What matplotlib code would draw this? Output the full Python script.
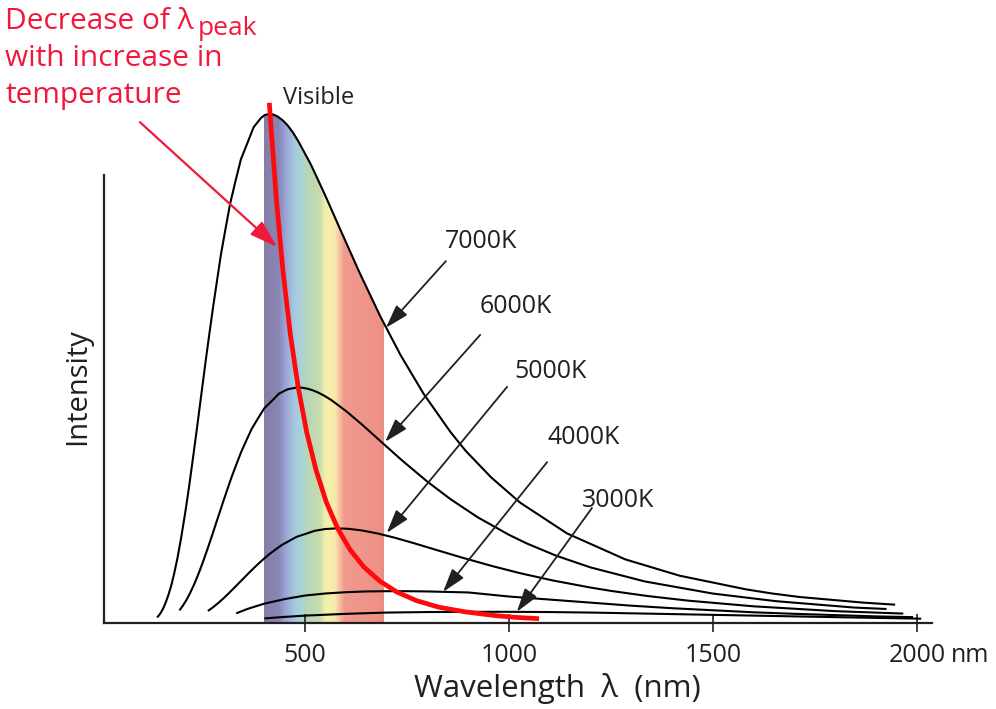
#!/usr/bin/env python3
"""Blackbody radiation curves (3000K-7000K) with the visible band and Wien peak shift."""

import numpy as np
import matplotlib
matplotlib.use("Agg")
import matplotlib.pyplot as plt
from matplotlib.colors import LinearSegmentedColormap
from matplotlib.patches import Polygon

plt.rcParams["font.family"] = ["Open Sans", "DejaVu Sans"]

# ── Data (intensity relative to the 7000K peak) ──
lam_7000 = [137.0, 141.8, 146.8, 152.3, 158.1, 164.4, 171.3, 178.7, 186.9, 195.8,
            205.5, 210.8, 216.4, 222.2, 228.4, 234.9, 241.8, 249.1, 256.9, 265.2,
            274.1, 283.5, 293.6, 304.5, 316.2, 328.9, 342.6, 357.5, 373.7, 391.5,
            401.1, 411.1, 421.6, 432.7, 444.4, 456.8, 469.8, 483.6, 513.9, 548.1,
            587.3, 632.4, 685.1, 734.1, 790.6, 856.4, 893.7, 956.0, 1027.7, 1141.9,
            1284.6, 1417.5, 1581.1, 1644.3, 1712.9, 1868.6, 1946.0]
int_7000 = [0.011, 0.015, 0.021, 0.029, 0.040, 0.054, 0.072, 0.096, 0.127, 0.166,
            0.214, 0.242, 0.273, 0.307, 0.344, 0.383, 0.426, 0.471, 0.519, 0.568,
            0.619, 0.670, 0.724, 0.773, 0.824, 0.867, 0.911, 0.941, 0.974, 0.992,
            0.998, 1.000, 0.999, 0.995, 0.988, 0.978, 0.964, 0.946, 0.901, 0.842,
            0.771, 0.690, 0.601, 0.526, 0.450, 0.375, 0.338, 0.286, 0.236, 0.176,
            0.125, 0.093, 0.066, 0.058, 0.051, 0.040, 0.036]

lam_6000 = [191.8, 199.8, 208.5, 218.0, 228.4, 239.8, 245.9, 252.4, 259.2, 266.4,
            274.1, 282.1, 290.7, 299.8, 309.4, 319.7, 330.8, 342.6, 355.3, 368.9,
            383.7, 399.7, 417.0, 436.0, 456.8, 479.6, 491.9, 504.8, 518.5, 532.9,
            548.1, 564.2, 599.5, 639.5, 685.1, 737.8, 799.3, 856.4, 922.3, 999.2,
            1042.6, 1115.3, 1199.0, 1332.2, 1498.8, 1653.8, 1844.6, 1925.0]
int_6000 = [0.0248, 0.0334, 0.0445, 0.0587, 0.0767, 0.0991, 0.1121, 0.1264, 0.1420, 0.1590,
            0.1773, 0.1971, 0.2178, 0.2400, 0.2627, 0.2866, 0.3102, 0.3348, 0.3576, 0.3813,
            0.4010, 0.4217, 0.4352, 0.4507, 0.4591, 0.4626, 0.4623, 0.4605, 0.4572, 0.4524,
            0.4459, 0.4379, 0.4169, 0.3898, 0.3569, 0.3192, 0.2779, 0.2432, 0.2080, 0.1734,
            0.1565, 0.1322, 0.1093, 0.0817, 0.0579, 0.0429, 0.0304, 0.0275]

lam_5000 = [261.6, 274.1, 287.8, 295.1, 302.9, 311.1, 319.7, 328.9, 338.5, 348.8,
            359.7, 371.3, 383.7, 396.9, 411.1, 426.3, 442.7, 460.4, 479.6, 500.5,
            523.2, 548.1, 575.5, 605.8, 639.5, 677.1, 719.4, 767.4, 822.2, 885.4,
            959.2, 1027.7, 1106.8, 1199.0, 1251.1, 1338.4, 1438.8, 1598.7, 1798.5, 1966.0]
int_5000 = [0.0236, 0.0308, 0.0398, 0.0450, 0.0508, 0.0571, 0.0639, 0.0713, 0.0792, 0.0875,
            0.0964, 0.1056, 0.1152, 0.1247, 0.1345, 0.1437, 0.1532, 0.1611, 0.1695, 0.1749,
            0.1811, 0.1845, 0.1859, 0.1851, 0.1818, 0.1760, 0.1676, 0.1566, 0.1434, 0.1283,
            0.1117, 0.0977, 0.0836, 0.0697, 0.0629, 0.0531, 0.0439, 0.0328, 0.0233, 0.0185]

lam_4000 = [331, 360, 400, 450, 500, 550, 600, 650, 700, 750, 800, 900, 1000,
            1100, 1200, 1300, 1400, 1500, 1600, 1700, 1800, 1900, 1990]
int_4000 = [0.019, 0.028, 0.038, 0.047, 0.054, 0.058, 0.0605, 0.062, 0.0625, 0.0625,
            0.062, 0.060, 0.052, 0.046, 0.040, 0.034, 0.029, 0.025, 0.021, 0.018,
            0.0155, 0.013, 0.0115]

lam_3000 = [400, 450, 500, 600, 700, 800, 900, 1000, 1100, 1200, 1300, 1400,
            1500, 1600, 1700, 1800, 1900, 2010]
int_3000 = [0.009, 0.012, 0.0145, 0.018, 0.0205, 0.0215, 0.022, 0.022, 0.0215,
            0.0205, 0.019, 0.0175, 0.016, 0.0145, 0.013, 0.0115, 0.010, 0.0085]

# Locus of the peak (Wien displacement), drawn in red
lam_peak = [412.2, 414.0, 429.3, 445.8, 463.7, 483.0, 504.0, 526.9, 552.0, 579.6,
            610.1, 644.0, 681.9, 724.5, 772.8, 828.0, 891.7, 966.0, 1016.8, 1073.3]
int_peak = [1.022, 1.000, 0.834, 0.690, 0.567, 0.463, 0.374, 0.300, 0.237, 0.186,
            0.144, 0.110, 0.083, 0.061, 0.044, 0.031, 0.022, 0.0145, 0.011, 0.0085]

curves = [("7000K", lam_7000, int_7000), ("6000K", lam_6000, int_6000),
          ("5000K", lam_5000, int_5000), ("4000K", lam_4000, int_4000),
          ("3000K", lam_3000, int_3000)]

visible_range = (400, 692)
x_ticks = [500, 1000, 1500, 2000]

# label text position and arrow (tail -> head) for each curve
curve_labels = {
    "7000K": ((843, 0.750), (845, 0.711), (698, 0.580)),
    "6000K": ((928, 0.622), (929, 0.566), (696, 0.356)),
    "5000K": ((1014, 0.495), (995, 0.464), (700, 0.177)),
    "4000K": ((1095, 0.365), (1093, 0.316), (838, 0.061)),
    "3000K": ((1178, 0.240), (1203, 0.226), (1019, 0.022)),
}

INK = "#231f20"
RED = "#ff0a0a"
TXT_RED = "#f0193c"

# ── Figure ──────────────────────────────────────────────
fig = plt.figure(figsize=(9.96, 7.09), dpi=100)
ax = fig.add_axes([104 / 996, 1 - 623 / 709, 828 / 996, 543 / 709])
ax.set_xlim(7, 2036.4)
ax.set_ylim(0, 1.0668)

# visible band, clipped to the area under the 7000K curve
spec = LinearSegmentedColormap.from_list("vis", [
    (0.00, "#847da7"), (0.12, "#8a86b4"), (0.17, "#98a2d4"), (0.25, "#a5c8e0"),
    (0.31, "#aad3d8"), (0.36, "#b6d7b6"), (0.47, "#c8dcae"), (0.51, "#f3efac"),
    (0.59, "#f7ecaa"), (0.63, "#f5c2a0"), (0.67, "#f19a8d"), (0.96, "#ef9187"),
    (1.00, "#e98c84")])
grad = np.linspace(0, 1, 300).reshape(1, -1)
im = ax.imshow(grad, cmap=spec, extent=[visible_range[0], visible_range[1], 0, 1.05],
               aspect="auto", origin="lower", zorder=1, interpolation="bilinear")
under = Polygon(np.column_stack([lam_7000 + [lam_7000[-1], lam_7000[0]],
                                 int_7000 + [0, 0]]), closed=True,
                transform=ax.transData, facecolor="none", edgecolor="none")
ax.add_patch(under)
im.set_clip_path(under)

for name, lam, inten in curves:
    ax.plot(lam, inten, color="black", lw=1.5, zorder=3, solid_capstyle="butt",
            solid_joinstyle="round")

ax.plot(lam_peak, int_peak, color=RED, lw=3.4, zorder=5, clip_on=False,
        solid_capstyle="butt", solid_joinstyle="round")

# curve labels and arrows
for name, (txt, tail, head) in curve_labels.items():
    ax.text(txt[0], txt[1], name, fontsize=18, color=INK, ha="left", va="center")
    ax.annotate("", xy=head, xytext=tail,
                arrowprops=dict(arrowstyle="-|>,head_length=0.9,head_width=0.28",
                                color=INK, lw=1.3, shrinkA=0, shrinkB=0,
                                mutation_scale=16), zorder=6)

ax.text(445, 1.031, "Visible", fontsize=17, color=INK, ha="left", va="center")

# red note + arrow
ax.annotate("", xy=(431, 0.739), xytext=(95, 0.984), annotation_clip=False,
            arrowprops=dict(arrowstyle="-|>,head_length=1.0,head_width=0.32",
                            color=TXT_RED, lw=1.6, shrinkA=0, shrinkB=0,
                            mutation_scale=17), zorder=6)
fig.text(5 / 996, 1 - 29 / 709, "Decrease of λ", fontsize=21.5, color=TXT_RED,
         ha="left", va="baseline")
fig.text(198 / 996, 1 - 35 / 709, "peak", fontsize=19, color=TXT_RED,
         ha="left", va="baseline")
fig.text(5 / 996, 1 - 66 / 709, "with increase in", fontsize=21.5, color=TXT_RED,
         ha="left", va="baseline")
fig.text(5 / 996, 1 - 103 / 709, "temperature", fontsize=21.5, color=TXT_RED,
         ha="left", va="baseline")

# axes styling
for s in ("top", "right"):
    ax.spines[s].set_visible(False)
ax.spines["left"].set_bounds(0, 0.880)
for s in ("left", "bottom"):
    ax.spines[s].set_color(INK)
    ax.spines[s].set_linewidth(1.6)
ax.set_yticks([])
ax.set_xticks(x_ticks)
ax.set_xticklabels([str(t) for t in x_ticks])
ax.tick_params(axis="x", direction="inout", length=13, width=1.2, color=INK,
               labelsize=18, labelcolor=INK, pad=8)
fig.text(951 / 996, 1 - 656 / 709, "nm", fontsize=18, color=INK, ha="left", va="center")

fig.text(557 / 996, 1 - 688 / 709, "Wavelength  λ  (nm)", fontsize=22.5, color=INK,
         ha="center", va="center")
fig.text(78 / 996, 1 - 387 / 709, "Intensity", fontsize=21, color=INK,
         ha="center", va="center", rotation=90)

fig.savefig("out.png", dpi=100)
